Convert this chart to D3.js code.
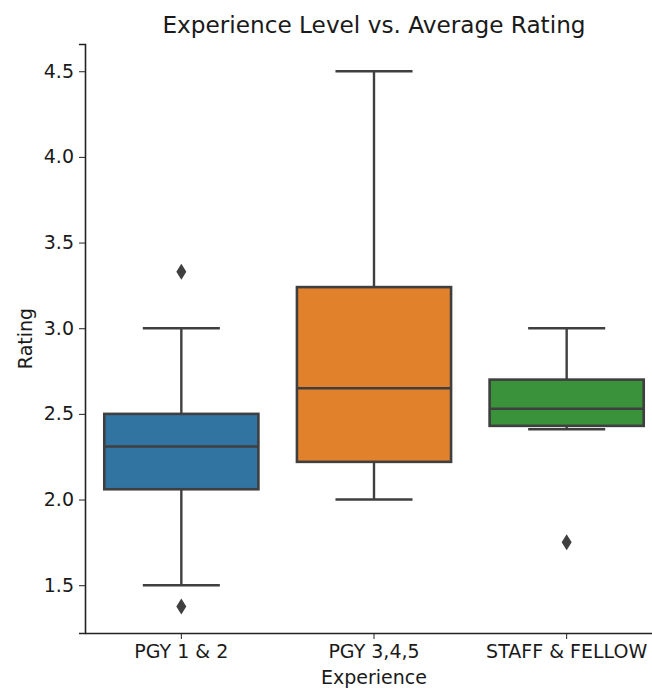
<!DOCTYPE html>
<html>
<head>
<meta charset="utf-8">
<script src="https://cdn.jsdelivr.net/npm/d3@7"></script>
<style>
  body { margin: 0; background: #fff; }
  text { font-family: "DejaVu Sans", sans-serif; fill: #1a1a1a; }
</style>
</head>
<body>
<script>
const categories = ["PGY 1 & 2", "PGY 3,4,5", "STAFF & FELLOW"];
const colors = ["#3274a1", "#e1812c", "#3a923a"];
const q1 = [2.06, 2.22, 2.43];
const median = [2.31, 2.65, 2.53];
const q3 = [2.5, 3.24, 2.70];
const whiskLo = [1.5, 2.0, 2.41];
const whiskHi = [3.0, 4.5, 3.0];
const outliers = [[3.33, 1.375], [], [1.75]];
const yTicks = [1.5, 2.0, 2.5, 3.0, 3.5, 4.0, 4.5];

const W = 652, H = 693;
const margin = { top: 44, left: 85, bottom: 60 };
const plotRight = 663;

const svg = d3.select('body').append('svg')
    .attr('width', W)
    .attr('height', H);

const x = d3.scaleBand()
    .domain(categories)
    .range([margin.left, plotRight]);

const y = d3.scaleLinear()
    .domain([1.221, 4.659])
    .range([H - margin.bottom, margin.top]);

const boxW = x.bandwidth() * 0.8;
const capW = boxW / 2;
const lineCol = '#3f3f3f';

// y axis
const yAxis = svg.append('g')
    .attr('transform', 'translate(' + margin.left + ',0)')
    .call(d3.axisLeft(y).tickValues(yTicks).tickFormat(d3.format('.1f')).tickSize(6).tickPadding(5));
yAxis.select('.domain').attr('stroke', '#222').attr('stroke-width', 1.6);
yAxis.selectAll('.tick line').attr('stroke', '#222').attr('stroke-width', 1);
yAxis.selectAll('.tick text').style('font-size', '19px').attr('fill', '#1a1a1a');

// x axis
const xAxis = svg.append('g')
    .attr('transform', 'translate(0,' + (H - margin.bottom) + ')')
    .call(d3.axisBottom(x).tickSize(6).tickPadding(6).tickSizeOuter(0));
xAxis.select('.domain').attr('stroke', '#222').attr('stroke-width', 1.6);
xAxis.selectAll('.tick line').attr('stroke', '#222').attr('stroke-width', 1);
xAxis.selectAll('.tick text').style('font-size', '19px').attr('fill', '#1a1a1a');

const boxes = svg.append('g').selectAll('g')
    .data(categories)
    .join('g')
    .attr('transform', d => 'translate(' + (x(d) + x.bandwidth() / 2) + ',0)');

// whiskers
boxes.append('line')
    .attr('x1', 0).attr('x2', 0)
    .attr('y1', (d, i) => y(whiskLo[i]))
    .attr('y2', (d, i) => y(q1[i]))
    .attr('stroke', lineCol).attr('stroke-width', 2.4);
boxes.append('line')
    .attr('x1', 0).attr('x2', 0)
    .attr('y1', (d, i) => y(q3[i]))
    .attr('y2', (d, i) => y(whiskHi[i]))
    .attr('stroke', lineCol).attr('stroke-width', 2.4);
boxes.append('line')
    .attr('x1', -capW / 2).attr('x2', capW / 2)
    .attr('y1', (d, i) => y(whiskLo[i]))
    .attr('y2', (d, i) => y(whiskLo[i]))
    .attr('stroke', lineCol).attr('stroke-width', 2.4);
boxes.append('line')
    .attr('x1', -capW / 2).attr('x2', capW / 2)
    .attr('y1', (d, i) => y(whiskHi[i]))
    .attr('y2', (d, i) => y(whiskHi[i]))
    .attr('stroke', lineCol).attr('stroke-width', 2.4);

// boxes
boxes.append('rect')
    .attr('x', -boxW / 2)
    .attr('width', boxW)
    .attr('y', (d, i) => y(q3[i]))
    .attr('height', (d, i) => y(q1[i]) - y(q3[i]))
    .attr('fill', (d, i) => colors[i])
    .attr('stroke', lineCol).attr('stroke-width', 2.6);

boxes.append('line')
    .attr('x1', -boxW / 2).attr('x2', boxW / 2)
    .attr('y1', (d, i) => y(median[i]))
    .attr('y2', (d, i) => y(median[i]))
    .attr('stroke', lineCol).attr('stroke-width', 2.6);

// outliers (thin diamonds)
boxes.selectAll('path.flier')
    .data((d, i) => outliers[i])
    .join('path')
    .attr('class', 'flier')
    .attr('d', v => {
        const cy = y(v);
        return 'M0,' + (cy - 8) + 'L5,' + cy + 'L0,' + (cy + 8) + 'L-5,' + cy + 'Z';
    })
    .attr('fill', lineCol);

// labels
svg.append('text')
    .attr('x', (margin.left + plotRight) / 2)
    .attr('y', 33)
    .attr('text-anchor', 'middle')
    .style('font-size', '23.2px')
    .text('Experience Level vs. Average Rating');

svg.append('text')
    .attr('x', (margin.left + plotRight) / 2)
    .attr('y', 684)
    .attr('text-anchor', 'middle')
    .style('font-size', '19px')
    .text('Experience');

svg.append('text')
    .attr('transform', 'translate(32,' + ((margin.top + H - margin.bottom) / 2) + ') rotate(-90)')
    .attr('text-anchor', 'middle')
    .style('font-size', '19px')
    .text('Rating');
</script>
</body>
</html>
